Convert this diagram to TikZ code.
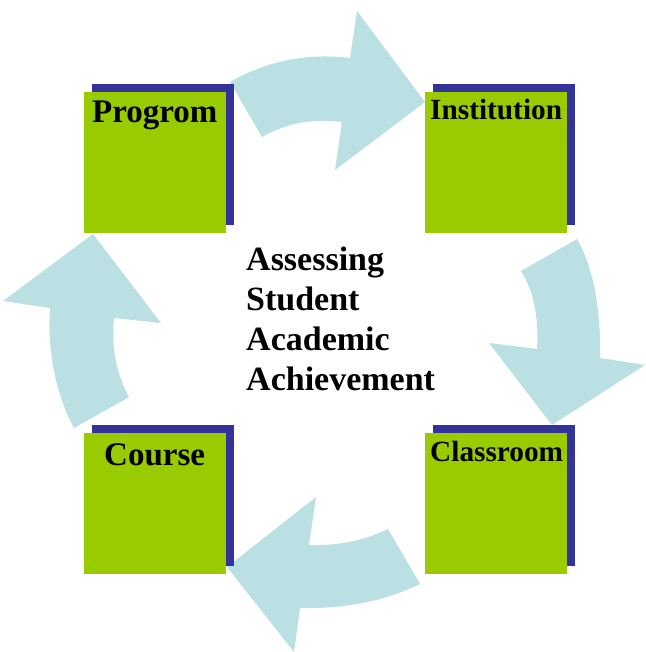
\documentclass[tikz,border=0pt]{standalone}
\usepackage{fontspec}
\setmainfont{Liberation Serif}
\definecolor{arrowcol}{RGB}{187,224,227}
\definecolor{boxgreen}{RGB}{153,204,0}
\definecolor{shadowblue}{RGB}{51,51,153}
\tikzset{
  flowarrow/.style={fill=arrowcol, draw=none},
  greenbox/.style={fill=boxgreen, draw=none, inner sep=0pt, minimum width=142pt, minimum height=141pt, anchor=north west},
  bluebox/.style={fill=shadowblue, draw=none, inner sep=0pt, minimum width=142pt, minimum height=141pt, anchor=north west},
  bigtitle/.style={font=\bfseries\fontsize{33}{40}\selectfont, inner sep=0pt, anchor=base west},
  smalltitle/.style={font=\bfseries\fontsize{29.3}{34}\selectfont, inner sep=0pt, anchor=base west},
  centertext/.style={font=\bfseries\fontsize{34}{40}\selectfont, inner sep=0pt, anchor=base west, align=left}
}
\begin{document}
\begin{tikzpicture}[x=1pt, y=-1pt]
\useasboundingbox (0,0) rectangle (645,652);
% arrows
\fill[flowarrow] (230,82) .. controls (268,60) and (310,53) .. (350,58) -- (357,11) -- (425,102) -- (335,170) -- (342,122) .. controls (310,118) and (285,124) .. (262,137) -- cycle;
\fill[flowarrow] (577,239) .. controls (592,265) and (601,305) .. (600,358) -- (645,365) -- (552,425) -- (489,343) -- (537,349) .. controls (539,315) and (533,290) .. (521,271) -- cycle;
\fill[flowarrow] (420,584) .. controls (385,601) and (345,609) .. (300,608) -- (294,652) -- (227,567) -- (316,497) -- (309,545) .. controls (340,546) and (365,540) .. (388,529) -- cycle;
\fill[flowarrow] (74,428) .. controls (56,395) and (47,350) .. (50,308) -- (3,301) -- (93,234) -- (161,323) -- (114,318) .. controls (111,350) and (117,375) .. (129,397) -- cycle;
% boxes
\node[bluebox] (progshadow) at (92,84) {};
\node[greenbox] (prog) at (84,92) {};
\node[bluebox] (instshadow) at (433,84) {};
\node[greenbox] (inst) at (425,92) {};
\node[bluebox] (classshadow) at (433,425) {};
\node[greenbox] (class) at (425,433) {};
\node[bluebox] (courseshadow) at (92,425) {};
\node[greenbox] (course) at (84,433) {};
% labels
\node[bigtitle] (progtext) at (92,123) {Progrom};
\node[smalltitle] (insttext) at (430,120) {Institution};
\node[smalltitle] (classtext) at (430,461) {Classroom};
\node[bigtitle] (coursetext) at (104,465) {Course};
\node[centertext] (l1) at (246,270) {Assessing};
\node[centertext] (l2) at (246,310) {Student};
\node[centertext] (l3) at (246,350) {Academic};
\node[centertext] (l4) at (246,390) {Achievement};
\end{tikzpicture}
\end{document}
